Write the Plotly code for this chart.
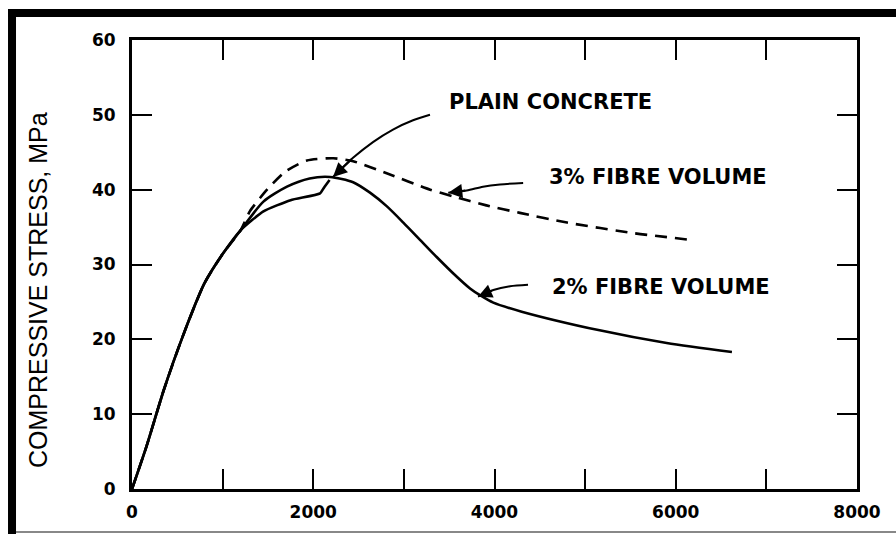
import plotly.graph_objects as go

# ---- data (strain in microstrain, stress in MPa) ----
common_x = [0, 160, 350, 560, 800, 1000, 1200]
common_y = [0, 5.7, 13.2, 20.4, 27.5, 31.4, 34.6]

plain_x = [1450, 1750, 2075, 2120, 2180]
plain_y = [37.1, 38.6, 39.5, 40.3, 41.3]

fibre2_x = [1450, 1710, 1960, 2185, 2440, 2626, 2810, 2994, 3178, 3362, 3546, 3730, 3840, 3987,
            4300, 5160, 5900, 6620]
fibre2_y = [38.4, 40.4, 41.5, 41.7, 41.0, 39.6, 37.8, 35.6, 33.3, 31.0, 28.8, 26.8, 25.9, 24.9,
            23.7, 21.2, 19.5, 18.3]

fibre3_x = [1300, 1490, 1690, 1930, 2220, 2440, 2810, 3290, 3545, 3910, 4280, 4800, 5530, 6160]
fibre3_y = [37.1, 40.0, 42.4, 43.9, 44.2, 43.8, 42.2, 40.0, 39.1, 37.9, 36.9, 35.6, 34.2, 33.3]

# leader lines (tip first)
lead_plain_x = [2218, 2439, 2659, 2880, 3101, 3288]
lead_plain_y = [41.7, 44.25, 46.36, 48.03, 49.27, 50.0]
lead3_x = [3490, 3693, 3873, 4061, 4316]
lead3_y = [39.6, 39.9, 40.4, 40.7, 40.9]
lead2_x = [3818, 3987, 4171, 4370]
lead2_y = [25.7, 26.6, 27.1, 27.3]

labels = ["PLAIN CONCRETE", "3% FIBRE VOLUME", "2% FIBRE VOLUME"]
label_x = [3476, 4579, 4612]
label_y = [51.65, 41.76, 27.06]

x_tickvals = [0, 1000, 2000, 3000, 4000, 5000, 6000, 7000, 8000]
x_ticktext = ["0", "", "2000", "", "4000", "", "6000", "", "8000"]
y_tickvals = [0, 10, 20, 30, 40, 50, 60]
y_title = "COMPRESSIVE STRESS, MPa"

fig = go.Figure()

line_w = 2.6
fig.add_trace(go.Scatter(x=common_x + plain_x, y=common_y + plain_y, mode="lines",
                         line=dict(color="black", width=line_w, shape="spline", smoothing=0.5)))
fig.add_trace(go.Scatter(x=common_x + fibre2_x, y=common_y + fibre2_y, mode="lines",
                         line=dict(color="black", width=line_w, shape="spline", smoothing=0.7)))
fig.add_trace(go.Scatter(x=common_x + fibre3_x, y=common_y + fibre3_y, mode="lines",
                         line=dict(color="black", width=line_w, shape="spline", smoothing=0.6,
                                   dash="12px,8px")))

for lx, ly in [(lead_plain_x, lead_plain_y), (lead3_x, lead3_y), (lead2_x, lead2_y)]:
    fig.add_trace(go.Scatter(x=lx, y=ly, mode="lines",
                             line=dict(color="black", width=2, shape="spline", smoothing=0.8)))

annotations = []
for lx, ly in [(lead_plain_x, lead_plain_y), (lead3_x, lead3_y), (lead2_x, lead2_y)]:
    annotations.append(dict(x=lx[0], y=ly[0], ax=lx[1], ay=ly[1], axref="x", ayref="y",
                            xref="x", yref="y", text="", showarrow=True,
                            arrowhead=2, arrowsize=1.4, arrowwidth=2, arrowcolor="black"))
for t, x, y in zip(labels, label_x, label_y):
    annotations.append(dict(x=x, y=y, xref="x", yref="y", text=t, showarrow=False,
                            xanchor="left", yanchor="middle",
                            font=dict(family="DejaVu Sans", size=21, color="black", weight="bold")))

# y-axis title
annotations.append(dict(x=(38 - 132) / 725, y=(489 - 290) / 449, xref="paper", yref="paper",
                        text=y_title, showarrow=False, textangle=-90,
                        xanchor="center", yanchor="middle",
                        font=dict(family="Liberation Sans", size=25, color="black")))

shapes = [
    dict(type="line", xref="paper", yref="paper", x0=-0.1655, x1=-0.1655, y0=-0.2, y1=1.069,
         line=dict(color="black", width=8)),
    dict(type="line", xref="paper", yref="paper", x0=-0.171, x1=1.1, y0=1.0601, y1=1.0601,
         line=dict(color="black", width=8)),
    dict(type="line", xref="paper", yref="paper", x0=-0.16, x1=1.1, y0=-0.096, y1=-0.096,
         line=dict(color="#888888", width=2)),
]

axis_common = dict(showline=True, linecolor="black", linewidth=3, mirror="ticks",
                   ticks="inside", ticklen=20, tickwidth=2, tickcolor="black",
                   showgrid=False, zeroline=False, automargin=False,
                   tickfont=dict(family="DejaVu Sans", size=17, color="black", weight="bold"))

fig.update_layout(
    width=896, height=534,
    margin=dict(l=132, r=39, t=40, b=45),
    paper_bgcolor="white", plot_bgcolor="white",
    showlegend=False,
    xaxis=dict(range=[0, 8000], tickvals=x_tickvals, ticktext=x_ticktext,
               ticklabelstandoff=6, **axis_common),
    yaxis=dict(range=[0, 60], tickvals=y_tickvals, ticklabelstandoff=10, **axis_common),
    annotations=annotations,
    shapes=shapes,
)

fig.write_html("out.html")
